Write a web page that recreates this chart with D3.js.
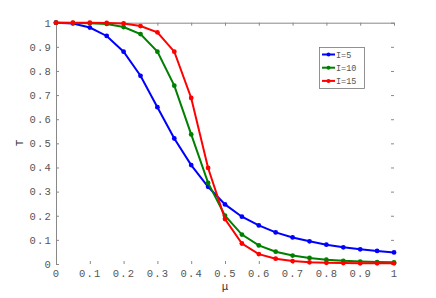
<!DOCTYPE html>
<html>
<head>
<meta charset="utf-8">
<script src="https://cdn.jsdelivr.net/npm/d3@7"></script>
<style>
  body { margin: 0; background: #fff; }
  svg text { font-family: "Liberation Mono", "DejaVu Sans Mono", monospace; }
</style>
</head>
<body>
<div class="plot"></div>
<script>
const mu = [0, 0.05, 0.1, 0.15, 0.2, 0.25, 0.3, 0.35, 0.4, 0.45, 0.5,
            0.55, 0.6, 0.65, 0.7, 0.75, 0.8, 0.85, 0.9, 0.95, 1];
const t5 = [1, 0.997, 0.98, 0.945, 0.88, 0.78, 0.65, 0.52, 0.41, 0.32, 0.247,
            0.196, 0.16, 0.131, 0.11, 0.094, 0.08, 0.069, 0.061, 0.054, 0.048];
const t10 = [1, 0.999, 0.998, 0.995, 0.982, 0.953, 0.88, 0.739, 0.537, 0.336, 0.2,
             0.122, 0.077, 0.051, 0.035, 0.025, 0.018, 0.013, 0.01, 0.008, 0.007];
const t15 = [1, 1, 1, 0.999, 0.997, 0.986, 0.96, 0.88, 0.688, 0.398, 0.186,
             0.085, 0.041, 0.022, 0.012, 0.007, 0.005, 0.004, 0.003, 0.003, 0.003];
const seriesNames = ["I=5", "I=10", "I=15"];
const colors = ["#0000ff", "#008000", "#ff0000"];
const xTicks = [0, 0.1, 0.2, 0.3, 0.4, 0.5, 0.6, 0.7, 0.8, 0.9, 1];
const yTicks = [0, 0.1, 0.2, 0.3, 0.4, 0.5, 0.6, 0.7, 0.8, 0.9, 1];

const width = 436, height = 298;
const mLeft = 56, mRight = 394, mTop = 22.7, mBottom = 264;

const svg = d3.select(".plot").append("svg")
    .attr("width", width)
    .attr("height", height);

const x = d3.scaleLinear().domain([0, 1]).range([mLeft, mRight]);
const y = d3.scaleLinear().domain([0, 1]).range([mBottom, mTop]);

const fmt = d => d === 0 || d === 1 ? String(d) : d3.format(".1f")(d);

// axes, ticks inward
const axColor = "#888";
svg.append("g").attr("transform", `translate(0,${mBottom})`)
    .call(d3.axisBottom(x).tickValues(xTicks).tickSizeInner(-3).tickSizeOuter(0).tickPadding(6).tickFormat(fmt))
    .call(g => g.select(".domain").remove());
svg.append("g").attr("transform", `translate(0,${mTop})`)
    .call(d3.axisTop(x).tickValues(xTicks).tickSizeInner(-3).tickSizeOuter(0).tickFormat(""))
    .call(g => g.select(".domain").attr("stroke", axColor));
svg.append("g").attr("transform", `translate(${mLeft},0)`)
    .call(d3.axisLeft(y).tickValues(yTicks).tickSizeInner(-3).tickSizeOuter(0).tickPadding(4).tickFormat(fmt))
    .call(g => g.select(".domain").attr("stroke", axColor));
svg.append("g").attr("transform", `translate(${mRight},0)`)
    .call(d3.axisRight(y).tickValues(yTicks).tickSizeInner(-3).tickSizeOuter(0).tickFormat(""))
    .call(g => g.select(".domain").remove());

svg.selectAll(".tick line").attr("stroke", axColor);
svg.selectAll(".tick text")
    .attr("fill", "#555")
    .attr("font-size", "10.5px")
    .attr("letter-spacing", "1.2px");

// axis labels
svg.append("text")
    .attr("x", 225).attr("y", 290)
    .attr("text-anchor", "middle")
    .attr("font-size", "11px")
    .attr("fill", "#333")
    .text("μ");
svg.append("text")
    .attr("transform", "translate(23,143) rotate(-90)")
    .attr("text-anchor", "middle")
    .attr("font-size", "11px")
    .attr("fill", "#333")
    .text("T");

// series
const allSeries = [t5, t10, t15];
const line = d3.line().x((d, i) => x(mu[i])).y(d => y(d));

allSeries.forEach((vals, k) => {
  svg.append("path")
      .datum(vals)
      .attr("d", line)
      .attr("fill", "none")
      .attr("stroke", colors[k])
      .attr("stroke-width", 2);
  svg.selectAll(".pt" + k)
      .data(vals)
      .enter()
      .append("circle")
      .attr("cx", (d, i) => x(mu[i]))
      .attr("cy", d => y(d))
      .attr("r", 2.4)
      .attr("fill", colors[k]);
});

// legend
const lg = svg.append("g");
lg.append("rect")
    .attr("x", 319.5).attr("y", 47.5)
    .attr("width", 45).attr("height", 41)
    .attr("fill", "#fff")
    .attr("stroke", "#777")
    .attr("stroke-width", 0.8);
seriesNames.forEach((name, k) => {
  const ly = 54.5 + k * 13.2;
  lg.append("line")
      .attr("x1", 322).attr("x2", 335)
      .attr("y1", ly).attr("y2", ly)
      .attr("stroke", colors[k]).attr("stroke-width", 2);
  lg.append("circle")
      .attr("cx", 328.5).attr("cy", ly).attr("r", 2)
      .attr("fill", colors[k]);
  lg.append("text")
      .attr("x", 336).attr("y", ly + 3)
      .attr("font-size", "8.5px")
      .attr("fill", "#555")
      .text(name);
});
</script>
</body>
</html>
